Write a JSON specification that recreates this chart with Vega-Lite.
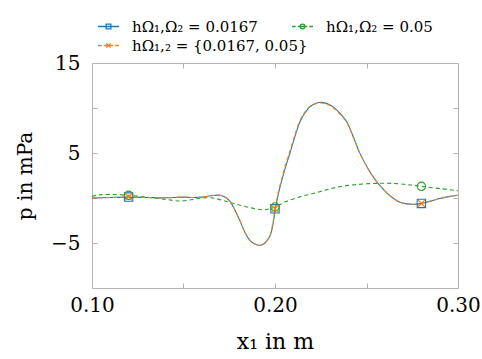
{
  "$schema": "https://vega.github.io/schema/vega-lite/v6.json",
  "width": 366,
  "height": 225,
  "autosize": {"type": "none"},
  "padding": {"left": 92, "top": 63, "right": 24, "bottom": 71},
  "config": {
    "font": "DejaVu Serif",
    "view": {"stroke": "#b4b4b4", "strokeWidth": 1},
    "axis": {
      "domain": false,
      "grid": false,
      "tickColor": "#b4b4b4",
      "tickSize": -5,
      "labelFont": "DejaVu Serif",
      "labelFontSize": 20,
      "labelColor": "#000",
      "titleFont": "DejaVu Serif",
      "titleFontSize": 21,
      "titleFontWeight": "normal",
      "titleColor": "#000"
    },
    "legend": {
      "orient": "none",
      "direction": "horizontal",
      "gridAlign": "none",
      "legendX": -1,
      "legendY": -44,
      "columns": 2,
      "padding": 0,
      "columnPadding": -23,
      "rowPadding": 3,
      "symbolSize": 110,
      "symbolOffset": 10,
      "labelOffset": 16,
      "symbolStrokeWidth": 1.3,
      "symbolOpacity": 1,
      "labelFont": "DejaVu Serif",
      "labelFontSize": 15,
      "labelColor": "#000",
      "labelLimit": 300
    }
  },
  "datasets": {
    "curves": [
      {"s":"fine","x":0.100,"p":0.0},{"s":"fine","x":0.110,"p":0.05},{"s":"fine","x":0.120,"p":0.1},{"s":"fine","x":0.130,"p":0.05},{"s":"fine","x":0.140,"p":0.02},{"s":"fine","x":0.150,"p":0.1},{"s":"fine","x":0.155,"p":0.05},{"s":"fine","x":0.160,"p":0.1},{"s":"fine","x":0.165,"p":0.25},{"s":"fine","x":0.170,"p":0.3},{"s":"fine","x":0.1735,"p":0.0},{"s":"fine","x":0.1755,"p":-0.4},{"s":"fine","x":0.178,"p":-1.3},{"s":"fine","x":0.181,"p":-2.6},{"s":"fine","x":0.1835,"p":-3.8},{"s":"fine","x":0.1863,"p":-4.7},{"s":"fine","x":0.189,"p":-5.1},{"s":"fine","x":0.1918,"p":-5.25},{"s":"fine","x":0.1945,"p":-5.0},{"s":"fine","x":0.1973,"p":-4.2},{"s":"fine","x":0.199,"p":-2.8},{"s":"fine","x":0.200,"p":-1.4},{"s":"fine","x":0.202,"p":0.6},{"s":"fine","x":0.204,"p":2.2},{"s":"fine","x":0.206,"p":3.6},{"s":"fine","x":0.2082,"p":5.0},{"s":"fine","x":0.211,"p":6.9},{"s":"fine","x":0.2137,"p":8.5},{"s":"fine","x":0.2165,"p":9.5},{"s":"fine","x":0.2191,"p":10.14},{"s":"fine","x":0.2225,"p":10.52},{"s":"fine","x":0.2255,"p":10.63},{"s":"fine","x":0.229,"p":10.45},{"s":"fine","x":0.2328,"p":9.96},{"s":"fine","x":0.236,"p":9.3},{"s":"fine","x":0.2392,"p":8.48},{"s":"fine","x":0.2428,"p":6.8},{"s":"fine","x":0.2464,"p":4.96},{"s":"fine","x":0.251,"p":3.2},{"s":"fine","x":0.2556,"p":1.8},{"s":"fine","x":0.260,"p":0.8},{"s":"fine","x":0.264,"p":0.05},{"s":"fine","x":0.268,"p":-0.45},{"s":"fine","x":0.272,"p":-0.65},{"s":"fine","x":0.276,"p":-0.7},{"s":"fine","x":0.280,"p":-0.6},{"s":"fine","x":0.285,"p":-0.35},{"s":"fine","x":0.290,"p":-0.05},{"s":"fine","x":0.295,"p":0.15},{"s":"fine","x":0.300,"p":0.3},
      {"s":"coarse","x":0.100,"p":0.2},{"s":"coarse","x":0.104,"p":0.35},{"s":"coarse","x":0.110,"p":0.4},{"s":"coarse","x":0.120,"p":0.3},{"s":"coarse","x":0.130,"p":0.1},{"s":"coarse","x":0.140,"p":-0.15},{"s":"coarse","x":0.148,"p":-0.33},{"s":"coarse","x":0.154,"p":-0.2},{"s":"coarse","x":0.160,"p":0.0},{"s":"coarse","x":0.166,"p":0.0},{"s":"coarse","x":0.172,"p":-0.3},{"s":"coarse","x":0.178,"p":-0.65},{"s":"coarse","x":0.185,"p":-1.0},{"s":"coarse","x":0.1936,"p":-1.3},{"s":"coarse","x":0.200,"p":-1.0},{"s":"coarse","x":0.206,"p":-0.4},{"s":"coarse","x":0.214,"p":0.15},{"s":"coarse","x":0.221,"p":0.5},{"s":"coarse","x":0.228,"p":0.9},{"s":"coarse","x":0.2355,"p":1.26},{"s":"coarse","x":0.245,"p":1.5},{"s":"coarse","x":0.2556,"p":1.63},{"s":"coarse","x":0.2665,"p":1.6},{"s":"coarse","x":0.274,"p":1.45},{"s":"coarse","x":0.281,"p":1.26},{"s":"coarse","x":0.290,"p":1.05},{"s":"coarse","x":0.300,"p":0.8},
      {"s":"mixed","x":0.100,"p":0.0},{"s":"mixed","x":0.110,"p":0.05},{"s":"mixed","x":0.120,"p":0.1},{"s":"mixed","x":0.130,"p":0.05},{"s":"mixed","x":0.140,"p":0.02},{"s":"mixed","x":0.150,"p":0.1},{"s":"mixed","x":0.155,"p":0.05},{"s":"mixed","x":0.160,"p":0.1},{"s":"mixed","x":0.165,"p":0.25},{"s":"mixed","x":0.170,"p":0.3},{"s":"mixed","x":0.1735,"p":0.0},{"s":"mixed","x":0.1755,"p":-0.4},{"s":"mixed","x":0.178,"p":-1.3},{"s":"mixed","x":0.181,"p":-2.6},{"s":"mixed","x":0.1835,"p":-3.8},{"s":"mixed","x":0.1863,"p":-4.7},{"s":"mixed","x":0.189,"p":-5.1},{"s":"mixed","x":0.1918,"p":-5.25},{"s":"mixed","x":0.1945,"p":-5.0},{"s":"mixed","x":0.1973,"p":-4.1},{"s":"mixed","x":0.199,"p":-2.6},{"s":"mixed","x":0.200,"p":-1.2},{"s":"mixed","x":0.202,"p":0.8},{"s":"mixed","x":0.204,"p":2.4},{"s":"mixed","x":0.206,"p":3.85},{"s":"mixed","x":0.2082,"p":5.25},{"s":"mixed","x":0.211,"p":7.1},{"s":"mixed","x":0.2137,"p":8.65},{"s":"mixed","x":0.2165,"p":9.6},{"s":"mixed","x":0.2191,"p":10.18},{"s":"mixed","x":0.2225,"p":10.5},{"s":"mixed","x":0.2255,"p":10.55},{"s":"mixed","x":0.229,"p":10.35},{"s":"mixed","x":0.2328,"p":9.85},{"s":"mixed","x":0.236,"p":9.2},{"s":"mixed","x":0.2392,"p":8.4},{"s":"mixed","x":0.2428,"p":6.75},{"s":"mixed","x":0.2464,"p":4.96},{"s":"mixed","x":0.251,"p":3.2},{"s":"mixed","x":0.2556,"p":1.8},{"s":"mixed","x":0.260,"p":0.8},{"s":"mixed","x":0.264,"p":0.05},{"s":"mixed","x":0.268,"p":-0.45},{"s":"mixed","x":0.272,"p":-0.65},{"s":"mixed","x":0.276,"p":-0.7},{"s":"mixed","x":0.280,"p":-0.6},{"s":"mixed","x":0.285,"p":-0.35},{"s":"mixed","x":0.290,"p":-0.05},{"s":"mixed","x":0.295,"p":0.15},{"s":"mixed","x":0.300,"p":0.3}
    ],
    "markers": [
      {"s":"fine","x":0.12,"p":0.1},{"s":"fine","x":0.20,"p":-1.2},{"s":"fine","x":0.28,"p":-0.6},
      {"s":"coarse","x":0.12,"p":0.3},{"s":"coarse","x":0.20,"p":-1.0},{"s":"coarse","x":0.28,"p":1.3},
      {"s":"mixed","x":0.12,"p":0.1},{"s":"mixed","x":0.20,"p":-1.2},{"s":"mixed","x":0.28,"p":-0.6}
    ]
  },
  "resolve": {"axis": {"x": "independent", "y": "independent"}},
  "layer": [
    {
      "mark": {"type": "rule", "color": "#cfcfcf", "strokeWidth": 1.5},
      "encoding": {
        "x": {"datum": 0.2, "type": "quantitative", "scale": {"domain": [0.1, 0.3], "nice": false, "zero": false}, "axis": null}
      }
    },
    {
      "data": {"name": "curves"},
      "transform": [{"filter": "datum.s == 'fine'"}],
      "mark": {"type": "line", "strokeWidth": 1.1, "interpolate": "catmull-rom", "clip": true, "color": "#1f77b4"},
      "encoding": {
        "x": {"field": "x", "type": "quantitative",
              "scale": {"domain": [0.1, 0.3], "nice": false, "zero": false},
              "axis": {"orient": "bottom", "values": [0.1, 0.15, 0.2, 0.25, 0.3], "format": ".2f",
                       "labelExpr": "datum.value == 0.15 || datum.value == 0.25 ? '' : datum.label",
                       "labelPadding": 12, "labelFlush": false, "title": "x₁ in m", "titlePadding": 16, "titleFontSize": 22}},
        "y": {"field": "p", "type": "quantitative",
              "scale": {"domain": [-10, 15], "nice": false, "zero": false},
              "axis": {"orient": "left", "values": [-5, 0, 5, 10, 15],
                       "labelExpr": "datum.value == 0 || datum.value == 10 ? '' : datum.label",
                       "labelPadding": 17, "title": "p in mPa", "titlePadding": 15, "titleFontSize": 20}}
      }
    },
    {
      "data": {"name": "curves"},
      "transform": [{"filter": "datum.s == 'coarse'"}],
      "mark": {"type": "line", "strokeWidth": 1.1, "interpolate": "catmull-rom", "clip": true, "color": "#2ca02c", "strokeDash": [4, 3]},
      "encoding": {
        "x": {"field": "x", "type": "quantitative", "axis": null},
        "y": {"field": "p", "type": "quantitative", "axis": null}
      }
    },
    {
      "data": {"name": "curves"},
      "transform": [{"filter": "datum.s == 'mixed'"}],
      "mark": {"type": "line", "strokeWidth": 1.1, "interpolate": "catmull-rom", "clip": true, "color": "#ff7f0e", "strokeDash": [4, 3]},
      "encoding": {
        "x": {"field": "x", "type": "quantitative", "axis": null},
        "y": {"field": "p", "type": "quantitative", "axis": null}
      }
    },
    {
      "data": {"name": "markers"},
      "transform": [{"filter": "datum.s == 'fine'"}],
      "mark": {"type": "point", "shape": "square", "filled": false, "size": 70, "strokeWidth": 1.1, "color": "#1f77b4", "opacity": 1},
      "encoding": {
        "x": {"field": "x", "type": "quantitative", "axis": null},
        "y": {"field": "p", "type": "quantitative", "axis": null}
      }
    },
    {
      "data": {"name": "markers"},
      "transform": [{"filter": "datum.s == 'coarse'"}],
      "mark": {"type": "point", "shape": "circle", "filled": false, "size": 70, "strokeWidth": 1.1, "color": "#2ca02c", "opacity": 1},
      "encoding": {
        "x": {"field": "x", "type": "quantitative", "axis": null},
        "y": {"field": "p", "type": "quantitative", "axis": null}
      }
    },
    {
      "data": {"name": "markers"},
      "transform": [{"filter": "datum.s == 'mixed'"}],
      "mark": {"type": "point", "shape": "M-1,-1L1,1M-1,1L1,-1", "filled": false, "size": 45, "strokeWidth": 1.1, "color": "#ff7f0e", "opacity": 1},
      "encoding": {
        "x": {"field": "x", "type": "quantitative", "axis": null},
        "y": {"field": "p", "type": "quantitative", "axis": null}
      }
    },
    {
      "data": {"name": "markers"},
      "mark": {"type": "point", "filled": false, "opacity": 0},
      "encoding": {
        "x": {"field": "x", "type": "quantitative",
              "axis": {"orient": "top", "values": [0.15, 0.2, 0.25], "labels": false, "title": null}},
        "y": {"field": "p", "type": "quantitative",
              "axis": {"orient": "right", "values": [-5, 0, 5, 10], "labels": false, "title": null}},
        "color": {"field": "s", "type": "nominal",
                  "scale": {"domain": ["fine", "coarse", "mixed"], "range": ["#1f77b4", "#2ca02c", "#ff7f0e"]},
                  "legend": {"title": null, "symbolOpacity": 1,
                    "labelExpr": "datum.value == 'fine' ? 'hΩ₁,Ω₂ = 0.0167' : datum.value == 'coarse' ? 'hΩ₁,Ω₂ = 0.05' : 'hΩ₁,₂ = {0.0167, 0.05}'"}},
        "shape": {"field": "s", "type": "nominal",
                  "scale": {"domain": ["fine", "coarse", "mixed"],
                            "range": ["M-2,0H2M-0.45,-0.45H0.45V0.45H-0.45Z",
                                      "M-2,0H-1.3M-0.9,0H0.9M1.3,0H2M0.45,0A0.45,0.45 0 1,1 -0.45,0A0.45,0.45 0 1,1 0.45,0",
                                      "M-2,0H-1.3M-0.9,0H0.9M1.3,0H2M-0.4,-0.4L0.4,0.4M-0.4,0.4L0.4,-0.4"]},
                  "legend": {"title": null, "symbolOpacity": 1,
                    "labelExpr": "datum.value == 'fine' ? 'hΩ₁,Ω₂ = 0.0167' : datum.value == 'coarse' ? 'hΩ₁,Ω₂ = 0.05' : 'hΩ₁,₂ = {0.0167, 0.05}'"}}
      }
    }
  ]
}
